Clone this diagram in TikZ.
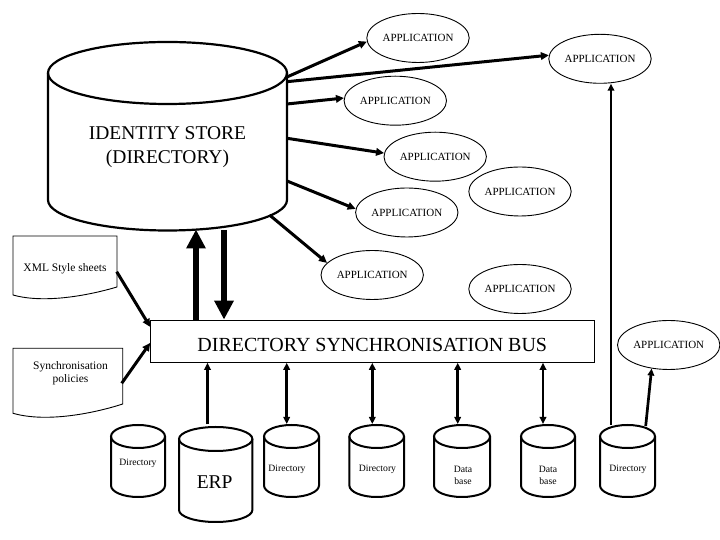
\documentclass[tikz,border=0pt]{standalone}
\usepackage{fontspec}
\setmainfont{Liberation Serif}
\usetikzlibrary{arrows.meta,shapes.geometric}
\tikzset{
  app/.style={ellipse,draw,line width=0.9pt,minimum width=102.4pt,minimum height=49pt,inner sep=0pt,font=\fontsize{11}{12}\selectfont},
  apparrow/.style={line width=3pt,-{Triangle[length=8pt,width=7.5pt]}},
  busarrowone/.style={line width=2.7pt,-{Triangle[length=7pt,width=6.5pt]}},
  busarrowtwo/.style={line width=2.7pt,{Triangle[length=7pt,width=6.5pt]}-{Triangle[length=7pt,width=6.5pt]}},
  fatarrow/.style={line width=6.5pt,-{Triangle[length=19pt,width=18.5pt]}},
  bigcyl/.style={line width=2.2pt},
  smallcyl/.style={line width=2pt},
  bigtext/.style={font=\fontsize{19.5}{24}\selectfont,inner sep=0pt,align=center},
  bustext/.style={font=\fontsize{20}{24}\selectfont,inner sep=0pt},
  doctext/.style={font=\fontsize{11.5}{12.6}\selectfont,inner sep=0pt,align=center},
  smalltext/.style={font=\fontsize{9.7}{12.3}\selectfont,inner sep=0pt,align=center},
  docshape/.style={draw,line width=0.9pt},
  busbox/.style={draw,line width=0.9pt,minimum width=443.3pt,minimum height=42.3pt,inner sep=0pt}
}
\newcommand\botcyl[5]{%
  \draw[smallcyl] (#1-#4,#2-#5) -- (#1-#4,#3+#5) arc[start angle=180,end angle=360,x radius=#4,y radius=#5] -- (#1+#4,#2-#5);
  \draw[smallcyl] (#1,#2-#5) ellipse[x radius=#4,y radius=#5];
}
\begin{document}
\begin{tikzpicture}[x=1pt,y=1pt]
\useasboundingbox (0,0) rectangle (720,540);
\fill[white] (0,0) rectangle (720,540);

% identity store
\draw[bigcyl] (48,467) -- (48,340) arc[start angle=180,end angle=360,x radius=119.5,y radius=30.5] -- (287,467);
\draw[bigcyl] (167.5,467) ellipse[x radius=119.5,y radius=31];
\node[bigtext] (ids) at (167.5,393) {IDENTITY STORE\\(DIRECTORY)};

% applications
\node[app] (app1) at (418,502) {APPLICATION};
\node[app] (app2) at (600,481.2) {APPLICATION};
\node[app] (app3) at (395.3,439.3) {APPLICATION};
\node[app] (app4) at (435.2,383.3) {APPLICATION};
\node[app] (app5) at (520,348.5) {APPLICATION};
\node[app] (app6) at (406.8,327.5) {APPLICATION};
\node[app] (app7) at (372.2,265) {APPLICATION};
\node[app] (app8) at (520,251) {APPLICATION};
\node[app] (app9) at (668.7,195) {APPLICATION};

% arrows from the identity store
\coordinate (s1) at (287,463);
\coordinate (s2) at (287,458.3);
\coordinate (s3) at (287,436);
\coordinate (s4) at (287,401.7);
\coordinate (s5) at (287,359);
\coordinate (s6) at (269.5,325);
\draw[apparrow] (s1) -- (app1.184);
\draw[apparrow] (s2) -- (app2.176);
\draw[apparrow] (s3) -- (app3.177);
\draw[apparrow] (s4) -- (app4.176);
\draw[apparrow] (s5) -- (app6.176);
\draw[apparrow] (s6) -- (app7.165);

% bus
\node[busbox] (bus) at (372.3,198.8) {};
\node[bustext] (buslabel) at (372.3,195.5) {DIRECTORY SYNCHRONISATION BUS};

% fat arrows
\coordinate (upT) at (196,310.5);
\coordinate (dnS) at (224,310);
\draw[fatarrow] (upT |- bus.north) -- (upT);
\draw[fatarrow] (dnS) -- (dnS |- bus.north);

% documents
\draw[docshape] (13,304) -- (117,304) -- (117,253) .. controls (90,245) and (45,236) .. (13,245) -- cycle;
\node[doctext] (xml) at (65,271) {XML Style sheets};
\draw[docshape] (13,191.7) -- (122.7,191.7) -- (122.7,136) .. controls (95,127) and (47,117) .. (13,126.7) -- cycle;
\node[doctext] (pol) at (70.5,167) {Synchronisation\\policies};
\coordinate (xmlR) at (116.7,268.3);
\coordinate (polR) at (121.7,156.7);
\draw[apparrow] (xmlR) -- ([yshift=14.3pt]bus.west);
\draw[apparrow] (polR) -- ([yshift=-1.7pt]bus.west);

% bottom cylinders
\botcyl{138}{115}{43}{27}{11.5}
\botcyl{215.7}{113}{18}{36.7}{12}
\botcyl{291.5}{115}{43}{27.5}{11.5}
\botcyl{376.7}{115}{43}{27.3}{11.5}
\botcyl{462}{115}{43}{28}{11.5}
\botcyl{548}{115}{43}{27}{11.5}
\botcyl{627.5}{115}{43}{27.5}{11.5}
\node[smalltext] (d1) at (138,77) {Directory};
\node[bigtext] (erp) at (214.7,58.3) {ERP};
\node[smalltext] (d2) at (287,71) {Directory};
\node[smalltext] (d3) at (377.5,71) {Directory};
\node[smalltext] (db1) at (463,64.5) {Data\\base};
\node[smalltext] (db2) at (548,64.5) {Data\\base};
\node[smalltext] (d4) at (628,71) {Directory};

% bus connectors
\coordinate (erpA) at (207.5,115.5);
\coordinate (d2A) at (286.7,116);
\coordinate (d3A) at (372.3,116);
\coordinate (db1A) at (457.7,116);
\coordinate (db2A) at (543,116);
\draw[busarrowone] (erpA) -- (erpA |- bus.south);
\draw[busarrowtwo] (d2A) -- (d2A |- bus.south);
\draw[busarrowtwo] (d3A) -- (d3A |- bus.south);
\draw[busarrowtwo] (db1A) -- (db1A |- bus.south);
\draw[busarrowtwo] (db2A) -- (db2A |- bus.south);

% right directory
\coordinate (d4A) at (611,115);
\coordinate (d4B) at (645.7,114);
\draw[busarrowone] (d4A) -- (d4A |- app2.south);
\draw[busarrowone] (d4B) -- (app9.234);
\end{tikzpicture}
\end{document}
